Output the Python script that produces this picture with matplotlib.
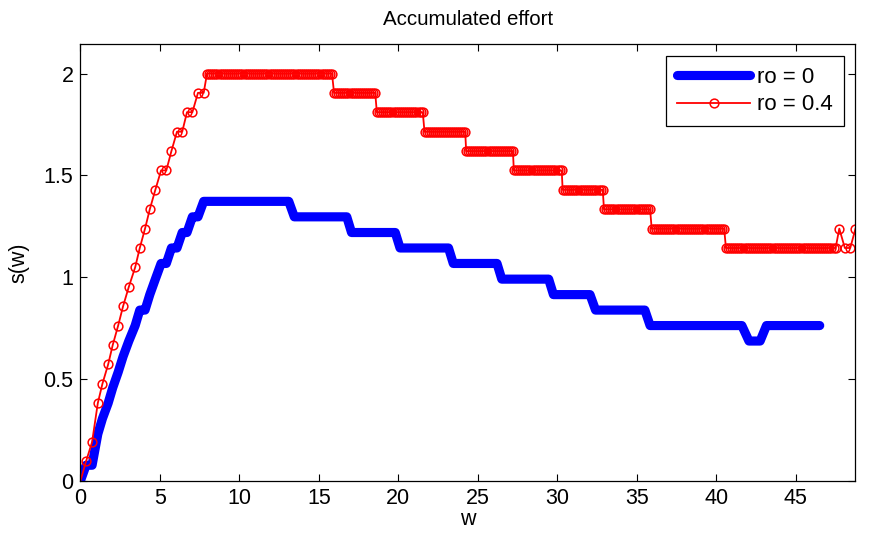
import numpy as np
import matplotlib.pyplot as plt

plt.rcParams['font.family'] = ['Liberation Sans', 'DejaVu Sans']

# ro = 0 (thick blue line), breakpoints
blue_w = [0, 0.35, 0.73, 1.09, 1.38, 1.74, 2.03, 2.37, 2.68, 3.04, 3.44, 3.73, 4.06,
          4.36, 4.71, 5.07, 5.40, 5.72, 6.07, 6.40, 6.70, 7.04, 7.39, 7.75,
          13.10, 13.45, 16.75, 17.05, 19.80, 20.10, 23.15, 23.45, 26.20, 26.50,
          29.45, 29.75, 32.05, 32.40, 35.50, 35.83, 41.60, 42.05, 42.75, 43.15, 46.50]
blue_s = [0, 0.076, 0.076, 0.229, 0.305, 0.381, 0.457, 0.533, 0.610, 0.686, 0.762, 0.838, 0.838,
          0.914, 0.990, 1.067, 1.067, 1.143, 1.143, 1.219, 1.219, 1.296, 1.296, 1.372,
          1.372, 1.296, 1.296, 1.219, 1.219, 1.143, 1.143, 1.067, 1.067, 0.990,
          0.990, 0.914, 0.914, 0.838, 0.838, 0.762, 0.762, 0.686, 0.686, 0.762, 0.762]

# ro = 0.4, rising part: one marker per sample
red_rise_w = [0, 0.35, 0.73, 1.09, 1.38, 1.74, 2.03, 2.37, 2.68, 3.04, 3.44, 3.73, 4.06,
              4.36, 4.71, 5.07, 5.40, 5.72, 6.07, 6.40, 6.70, 7.04, 7.39, 7.75]
red_rise_s = [0, 0.095, 0.190, 0.381, 0.476, 0.571, 0.667, 0.762, 0.857, 0.952, 1.048, 1.143, 1.238,
              1.333, 1.429, 1.524, 1.524, 1.619, 1.714, 1.714, 1.810, 1.810, 1.905, 1.905]

# ro = 0.4, flat steps (markers too dense to count, so given as start/end/level)
red_step_start = [7.96, 15.95, 18.64, 21.64, 24.26, 27.26, 30.33, 32.93, 35.93, 40.60]
red_step_end = [15.82, 18.54, 21.53, 24.20, 27.20, 30.27, 32.85, 35.83, 40.49, 47.50]
red_step_level = [2.000, 1.905, 1.810, 1.714, 1.619, 1.524, 1.429, 1.333, 1.238, 1.143]

red_tail_w = [47.73, 48.08, 48.42, 48.75]
red_tail_s = [1.238, 1.143, 1.143, 1.238]

red_w = list(red_rise_w)
red_s = list(red_rise_s)
for a, b, lev in zip(red_step_start, red_step_end, red_step_level):
    n = int(round((b - a) / 0.13)) + 1
    red_w += list(np.linspace(a, b, n))
    red_s += [lev] * n
red_w += red_tail_w
red_s += red_tail_s

fig = plt.figure(figsize=(8.71, 5.47), dpi=100)
ax = fig.add_axes([0.0924, 0.1212, 0.8898, 0.7984])

ax.plot(blue_w, blue_s, color=(0, 0, 1), lw=6.6, solid_capstyle='round',
        solid_joinstyle='round', label='ro = 0')
ax.plot(red_w, red_s, color=(1, 0, 0), lw=1.3, marker='o', ms=6.3, mfc='none',
        mew=1.1, markevery=slice(1, None), label='ro = 0.4')

ax.set_xlim(0, 48.75)
ax.set_ylim(0, 2.145)
ax.set_xticks(range(0, 50, 5))
ax.set_yticks([0, 0.5, 1, 1.5, 2])
ax.set_yticklabels(['0', '0.5', '1', '1.5', '2'])
ax.tick_params(direction='in', top=True, right=True, length=5, width=0.8,
               labelsize=15.5, pad=5)
for sp in ax.spines.values():
    sp.set_linewidth(0.9)

ax.set_title('Accumulated effort', fontsize=14.8, pad=14)
ax.set_xlabel('w', fontsize=15.5, labelpad=0)
ax.set_ylabel('s(w)', fontsize=15.5, labelpad=10)

leg = ax.legend(loc='upper right', fontsize=16, numpoints=1, handlelength=3.3,
                handletextpad=0.3, labelspacing=0.3, borderaxespad=0.52,
                fancybox=False, framealpha=1, edgecolor='black', borderpad=0.5)
leg.get_frame().set_linewidth(0.9)

fig.savefig('out.png', dpi=100)
